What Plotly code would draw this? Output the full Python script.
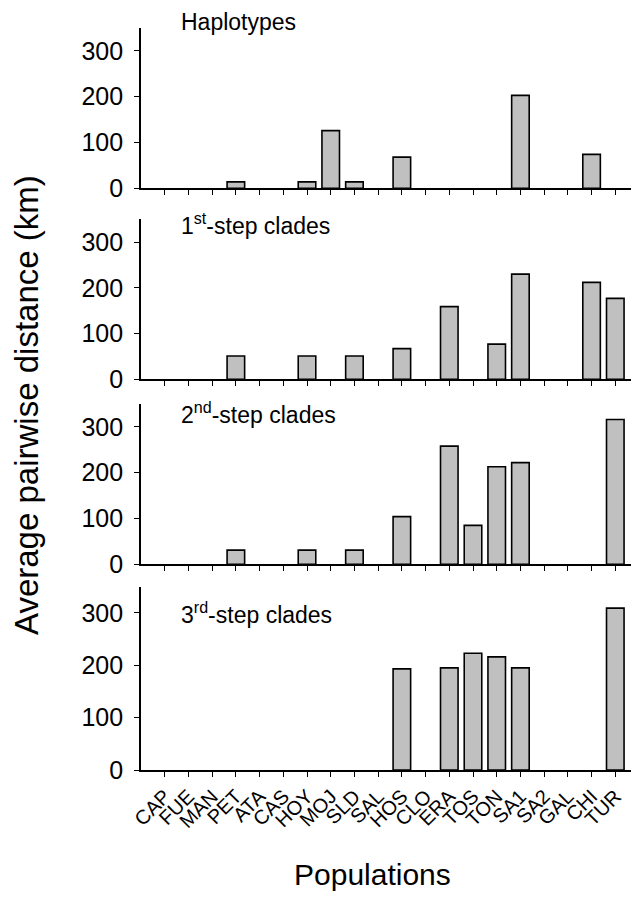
import plotly.graph_objects as go

populations = ["CAP", "FUE", "MAN", "PET", "ATA", "CAS", "HOY", "MOJ", "SLD", "SAL",
               "HOS", "CLO", "ERA", "TOS", "TON", "SA1", "SA2", "GAL", "CHI", "TUR"]

haplotypes = [None, None, None, 14, None, None, 14, 126, 14, None,
              68, None, None, None, None, 203, None, None, 74, None]
step1 = [None, None, None, 51, None, None, 51, None, 51, None,
         67, None, 159, None, 77, 230, None, None, 212, 177]
step2 = [None, None, None, 31, None, None, 31, None, 31, None,
         104, None, 258, 85, 213, 222, None, None, None, 316]
step3 = [None, None, None, None, None, None, None, None, None, None,
         193, None, 195, 223, 216, 195, None, None, None, 309]

panel_titles = ["Haplotypes", "1<sup>st</sup>-step clades",
                "2<sup>nd</sup>-step clades", "3<sup>rd</sup>-step clades"]
y_ticks = [0, 100, 200, 300]

FONT = "Arial, Liberation Sans, sans-serif"
OFF = 8  # page body margin offset
W, H = 631, 898
ML, MR, MT, MB = 141 - OFF, 0, 28 - OFF, H - (770 - OFF)
plot_w = W - ML - MR
plot_h = H - MT - MB

# panel pixel extents (top, zero-line) in page pixels
panels_px = [(28, 188.3), (219.3, 379.3), (404, 564.3), (586.7, 770)]
title_y_px = [22, 224, 413, 613]


def py(page_y):
    return (H - MB - (page_y - OFF)) / plot_h


def px(page_x):
    return ((page_x - OFF) - ML) / plot_w


series = [haplotypes, step1, step2, step3]
fig = go.Figure()
x_idx = list(range(len(populations)))

for i, vals in enumerate(series):
    n = "" if i == 0 else str(i + 1)
    fig.add_trace(go.Bar(
        x=x_idx, y=vals, width=0.74,
        marker=dict(color="#c0c0c0", line=dict(color="black", width=1.6)),
        xaxis="x" + n, yaxis="y" + n, showlegend=False,
    ))
    top, bottom = panels_px[i]
    last = i == len(series) - 1
    fig.layout["xaxis" + n] = dict(
        domain=[0, 1], anchor="y" + n, range=[-1, 20],
        tickmode="array", tickvals=x_idx,
        ticktext=populations if last else [""] * len(populations),
        showticklabels=last, tickangle=-45,
        ticks="outside", ticklen=5, tickwidth=1.4, tickcolor="black",
        showline=True, linecolor="black", linewidth=1.7,
        showgrid=False, zeroline=False,
        tickfont=dict(family=FONT, size=20, color="black"),
        fixedrange=True,
    )
    fig.layout["yaxis" + n] = dict(
        domain=[py(bottom), py(top)], anchor="x" + n, range=[0, 350],
        tickmode="array", tickvals=y_ticks,
        ticks="outside", ticklen=5, tickwidth=1.4, tickcolor="black",
        showline=True, linecolor="black", linewidth=1.7,
        showgrid=False, zeroline=False,
        tickfont=dict(family=FONT, size=25, color="black"),
        ticklabelstandoff=6,
    )
    fig.add_annotation(
        text=panel_titles[i], xref="paper", yref="paper",
        x=px(179), y=py(title_y_px[i]),
        xanchor="left", yanchor="middle", showarrow=False,
        font=dict(family=FONT, size=23, color="black"),
    )

fig.add_annotation(
    text="Average pairwise distance (km)", xref="paper", yref="paper",
    x=px(26), y=py(405),
    xanchor="center", yanchor="middle", textangle=-90, showarrow=False,
    font=dict(family=FONT, size=33, color="black"),
)
fig.add_annotation(
    text="Populations", xref="paper", yref="paper",
    x=px(372), y=py(874),
    xanchor="center", yanchor="middle", showarrow=False,
    font=dict(family=FONT, size=30, color="black"),
)

fig.update_layout(
    width=W, height=H, margin=dict(l=ML, r=MR, t=MT, b=MB),
    paper_bgcolor="white", plot_bgcolor="white", bargap=0.2,
)

fig.write_html("out.html")
